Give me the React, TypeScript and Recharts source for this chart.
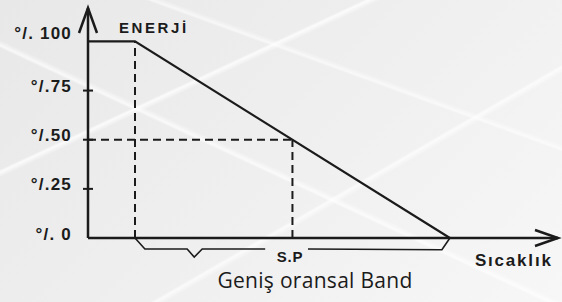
import {
  LineChart,
  Line,
  XAxis,
  YAxis,
  ReferenceLine,
  ReferenceDot,
} from 'recharts';

// energy curve: 100% until the band starts, then falls to 0 at the band end
const energyX = [0, 10, 77];
const energyY = [100, 100, 0];

// set point
const spX = 43.5;
const spY = 50;

// bracket under the axis ("Geniş oransal Band"), null = gap for the S.P text
const bracketX = [10, 12.1, 21.1, 22.6, 24.3, 37.7, 41, 46.8, 75.3, 77];
const bracketY = [0, -5.6, -5.6, -9.7, -5.6, -5.6, null, -5.6, -6, 0];

const yTicks = [0, 25, 50, 75, 100];
const yTickLabels = ['°/. 0', '°/.25', '°/.50', '°/.75', '°/. 100'];

const X_MAX = 100;
const Y_MAX = 117;
const Y_MIN = -30;

const INK = '#1b1b1b';

const energyData = energyX.map((x, i) => ({ x, e: energyY[i] }));
const bracketData = bracketX.map((x, i) => ({ x, b: bracketY[i] }));

function YTick({ x, y, payload }: { x?: number; y?: number; payload?: { value: number } }) {
  if (x == null || y == null || !payload) return null;
  const v = payload.value;
  const idx = yTicks.indexOf(v);
  const showMark = v > 0 && v < 100;
  return (
    <g>
      {showMark && (
        <line x1={x - 5} x2={x + 5} y1={y} y2={y} stroke={INK} strokeWidth={2} />
      )}
      <text
        x={x - 16}
        y={v === 100 ? y - 8 : y - 4}
        textAnchor="end"
        dominantBaseline="central"
        fill={INK}
        fontSize={17}
        fontWeight={700}
        letterSpacing={1.2}
        fontFamily="'Liberation Sans', Arial, sans-serif"
      >
        {yTickLabels[idx]}
      </text>
    </g>
  );
}

function UpArrow({ cx, cy }: { cx?: number; cy?: number }) {
  if (cx == null || cy == null) return <g />;
  return (
    <path
      d={`M${cx - 9},${cy + 25} L${cx},${cy} L${cx + 9},${cy + 25}`}
      fill="none"
      stroke={INK}
      strokeWidth={2.5}
    />
  );
}

function RightArrow({ cx, cy }: { cx?: number; cy?: number }) {
  if (cx == null || cy == null) return <g />;
  return (
    <path
      d={`M${cx - 23},${cy - 8} L${cx},${cy} L${cx - 23},${cy + 8}`}
      fill="none"
      stroke={INK}
      strokeWidth={2.5}
    />
  );
}

function textShape(text: string, size: number, weight: number, spacing: number, family: string) {
  return ({ cx, cy }: { cx?: number; cy?: number }) => {
    if (cx == null || cy == null) return <g />;
    return (
      <text
        x={cx}
        y={cy}
        textAnchor="middle"
        dominantBaseline="central"
        fill={INK}
        fontSize={size}
        fontWeight={weight}
        letterSpacing={spacing}
        fontFamily={family}
      >
        {text}
      </text>
    );
  };
}

const BOLD = "'Liberation Sans', Arial, sans-serif";

export default function App() {
  return (
    <div
      style={{
        position: 'absolute',
        left: 0,
        top: 0,
        width: 562,
        height: 302,
        background:
          'linear-gradient(155deg, transparent 30%, rgba(255,255,255,0.8) 30.5%, transparent 31.5%),' +
          'linear-gradient(25deg, transparent 45%, rgba(255,255,255,0.7) 45.5%, transparent 46.5%),' +
          'linear-gradient(150deg, transparent 62%, rgba(255,255,255,0.7) 62.5%, transparent 63.5%),' +
          'linear-gradient(20deg, transparent 70%, rgba(255,255,255,0.6) 70.5%, transparent 71.5%),' +
          'linear-gradient(135deg, #e8e8e8 0%, #efefef 50%, #f7f7f7 100%)',
      }}
    >
      <LineChart
        width={562}
        height={302}
        margin={{ top: 8, right: 4, bottom: 5, left: 8 }}
      >
        <XAxis type="number" dataKey="x" domain={[0, X_MAX]} hide allowDataOverflow />
        <YAxis
          type="number"
          domain={[Y_MIN, Y_MAX]}
          ticks={yTicks}
          width={80}
          axisLine={false}
          tickLine={false}
          tickSize={0}
          tickMargin={0}
          tick={<YTick />}
          allowDataOverflow
        />

        {/* axes */}
        <ReferenceLine
          segment={[{ x: 0, y: 0 }, { x: 0, y: Y_MAX }]}
          stroke={INK}
          strokeWidth={2.5}
        />
        <ReferenceLine
          segment={[{ x: 0, y: 0 }, { x: X_MAX, y: 0 }]}
          stroke={INK}
          strokeWidth={2.5}
        />
        <ReferenceDot x={0} y={Y_MAX} r={0} shape={<UpArrow />} />
        <ReferenceDot x={X_MAX} y={0} r={0} shape={<RightArrow />} />

        {/* dashed guides */}
        <ReferenceLine
          segment={[{ x: energyX[1], y: 0 }, { x: energyX[1], y: 100 }]}
          stroke={INK}
          strokeWidth={2}
          strokeDasharray="8 5"
        />
        <ReferenceLine
          segment={[{ x: 0, y: spY }, { x: spX, y: spY }]}
          stroke={INK}
          strokeWidth={2}
          strokeDasharray="8 5"
        />
        <ReferenceLine
          segment={[{ x: spX, y: 0 }, { x: spX, y: spY }]}
          stroke={INK}
          strokeWidth={2}
          strokeDasharray="8 5"
        />

        <Line
          data={bracketData}
          dataKey="b"
          type="linear"
          stroke={INK}
          strokeWidth={1.6}
          dot={false}
          activeDot={false}
          connectNulls={false}
          isAnimationActive={false}
        />
        <Line
          data={energyData}
          dataKey="e"
          type="linear"
          stroke={INK}
          strokeWidth={2.2}
          dot={false}
          activeDot={false}
          isAnimationActive={false}
        />

        {/* texts */}
        <ReferenceDot x={14} y={107} r={0} shape={textShape('ENERJİ', 15, 700, 2.6, BOLD)} />
        <ReferenceDot x={spX - 0.5} y={-9.2} r={0} shape={textShape('S.P', 15, 700, 0.8, BOLD)} />
        <ReferenceDot x={90.6} y={-11.5} r={0} shape={textShape('Sıcaklık', 17, 700, 1.8, BOLD)} />
        <ReferenceDot
          x={48.3}
          y={-21.5}
          r={0}
          shape={textShape('Geniş oransal Band', 21, 400, 0.3, "'Open Sans', sans-serif")}
        />
      </LineChart>
    </div>
  );
}
